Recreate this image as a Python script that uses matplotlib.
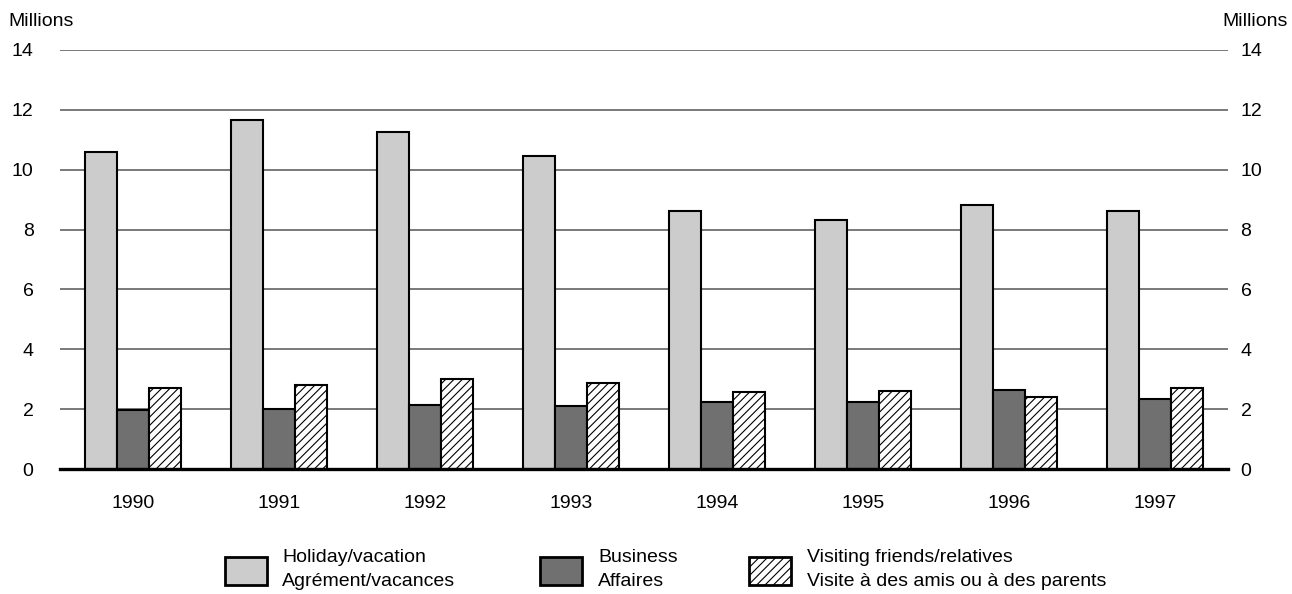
import matplotlib
matplotlib.use("Agg")
import matplotlib.pyplot as plt
from matplotlib.patches import Rectangle
import numpy as np

plt.rcParams['font.family'] = ['Liberation Sans', 'DejaVu Sans']
plt.rcParams['hatch.linewidth'] = 0.8

years = ["1990", "1991", "1992", "1993", "1994", "1995", "1996", "1997"]
holiday = [10.6, 11.65, 11.25, 10.45, 8.62, 8.32, 8.82, 8.63]
business = [1.97, 2.0, 2.14, 2.12, 2.24, 2.24, 2.64, 2.33]
visiting = [2.7, 2.8, 3.0, 2.86, 2.57, 2.62, 2.41, 2.71]
yticks = [0, 2, 4, 6, 8, 10, 12, 14]
legend_en = ["Holiday/vacation", "Business", "Visiting friends/relatives"]
legend_fr = ["Agrément/vacances", "Affaires", "Visite à des amis ou à des parents"]

W, H = 1292, 594
fig = plt.figure(figsize=(W / 100, H / 100), dpi=100)
ax = fig.add_axes([60 / W, 125 / H, (1228 - 60) / W, (469 - 50) / H])

x = np.arange(len(years))
bw = 0.22
styles = [
    dict(color="#cccccc", hatch=None),
    dict(color="#707070", hatch=None),
    dict(color="white", hatch="////"),
]
for i, (vals, st) in enumerate(zip([holiday, business, visiting], styles)):
    ax.bar(x + (i - 1) * bw, vals, width=bw, color=st["color"], hatch=st["hatch"],
           edgecolor="black", linewidth=1.5, zorder=3)

ax.set_xlim(-0.5, len(years) - 0.5)
ax.set_ylim(0, 14)
ax.set_yticks(yticks)
ax.set_yticklabels([str(t) for t in yticks])
ax.set_xticks(x)
ax.set_xticklabels(years)
ax.tick_params(axis="x", length=0, pad=19, labelsize=14)
ax.tick_params(axis="y", length=0, labelsize=14, pad=19, left=True, right=True,
               labelleft=True, labelright=False)
ax.grid(axis="y", color="#555555", linewidth=1.1, zorder=0)
for s in ["top", "left", "right"]:
    ax.spines[s].set_visible(False)
ax.spines["bottom"].set_linewidth(2.4)
ax.spines["bottom"].set_zorder(4)

ax2 = ax.twinx()
ax2.set_ylim(0, 14)
ax2.set_yticks(yticks)
ax2.set_yticklabels([str(t) for t in yticks])
ax2.tick_params(axis="y", length=0, labelsize=14, pad=9)
for s in ["top", "left", "right", "bottom"]:
    ax2.spines[s].set_visible(False)

fig.text(8 / W, 1 - 21 / H, "Millions", fontsize=14, ha="left", va="center")
fig.text(1288 / W, 1 - 21 / H, "Millions", fontsize=14, ha="right", va="center")

# legend
box_x = [225, 540, 749]
text_x = [282, 598, 807]
for i in range(3):
    st = styles[i]
    r = Rectangle((box_x[i] / W, 1 - 585 / H), 42 / W, 28 / H, transform=fig.transFigure,
                  facecolor=st["color"], hatch=st["hatch"], edgecolor="black", linewidth=2)
    fig.add_artist(r)
    fig.text(text_x[i] / W, 1 - 558 / H, legend_en[i], fontsize=14, ha="left", va="center")
    fig.text(text_x[i] / W, 1 - 581 / H, legend_fr[i], fontsize=14, ha="left", va="center")

fig.savefig("out.png", dpi=100)
